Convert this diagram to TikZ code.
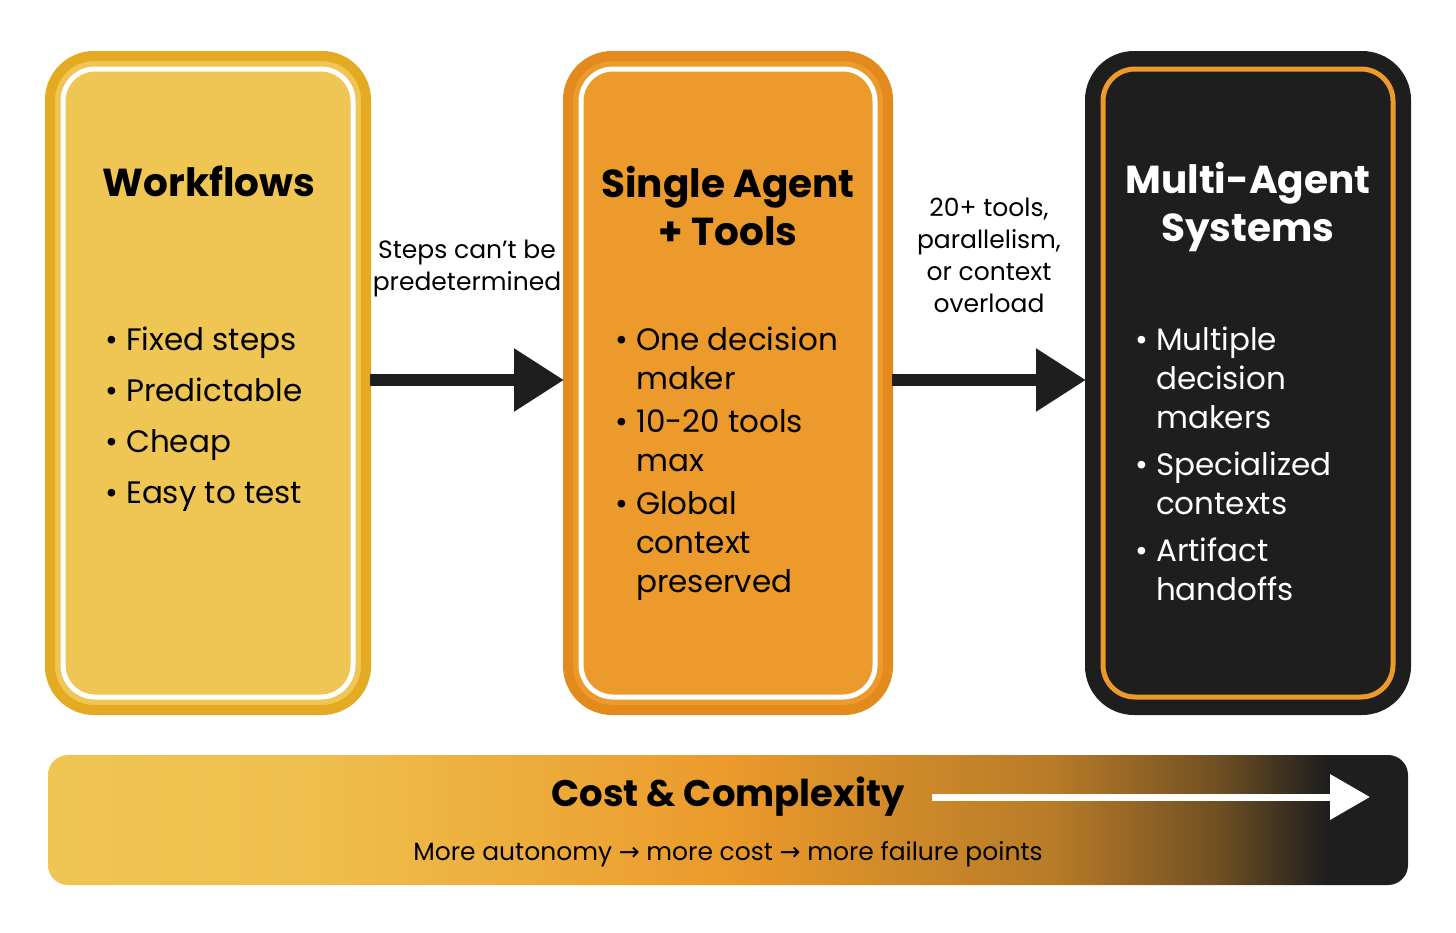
\documentclass[tikz,border=0pt]{standalone}
\usepackage{fontspec}
\setmainfont{Poppins}
\newfontfamily\arrowfont{DejaVu Sans}
\usetikzlibrary{arrows.meta}
\definecolor{yel}{HTML}{EFC553}
\definecolor{yelb}{HTML}{E3AA22}
\definecolor{ora}{HTML}{EB9A2B}
\definecolor{orab}{HTML}{E38A1C}
\definecolor{blk}{HTML}{1E1E1E}
\pgfdeclarehorizontalshading{costshade}{100bp}{color(0bp)=(yel); color(25bp)=(yel); color(35bp)=(yel!85!ora); color(50bp)=(ora); color(62bp)=(ora!75!blk); color(68bp)=(ora!40!blk); color(72bp)=(blk); color(100bp)=(blk)}
\tikzset{
 panel/.style={rounded corners=22pt, line width=5pt},
 inner/.style={rounded corners=16pt, line width=2.5pt},
 title/.style={font=\bfseries\fontsize{19.5}{24}\selectfont, align=center},
 items/.style={font=\fontsize{15.5}{19.5}\selectfont, align=left, anchor=north west},
 lab/.style={font=\fontsize{12.5}{16}\selectfont, align=center},
 bigarrow/.style={line width=6pt, -{Triangle[length=25pt,width=30pt]}, draw=blk}
}
\begin{document}
\begin{tikzpicture}[x=0.5pt,y=-0.5pt]
\useasboundingbox (0,0) rectangle (1456,932);
% panels
\draw[panel, fill=yel, draw=yelb] (50,56) rectangle (366,710);
\draw[inner, draw=white] (63,69) rectangle (353,697);
\draw[panel, fill=ora, draw=orab] (568,56) rectangle (888,710);
\draw[inner, draw=white] (581,69) rectangle (875,697);
\draw[panel, fill=blk, draw=blk] (1090,56) rectangle (1406,710);
\draw[inner, draw=ora] (1103,69) rectangle (1393,697);
% titles
\node[title] (t1) at (209,181) {Workflows};
\node[title] (t2) at (728,206) {Single Agent\\+ Tools};
\node[title, text=white] (t3) at (1248,207) {Multi-Agent\\Systems};
% items
\node[items] (i1) at (98,320) {\textbullet\ Fixed steps\\[6pt]\textbullet\ Predictable\\[6pt]\textbullet\ Cheap\\[6pt]\textbullet\ Easy to test};
\node[items] (i2) at (608,320) {\textbullet\ One decision\\\phantom{\textbullet\ }maker\\[2pt]\textbullet\ 10-20 tools\\\phantom{\textbullet\ }max\\[2pt]\textbullet\ Global\\\phantom{\textbullet\ }context\\\phantom{\textbullet\ }preserved};
\node[items, text=white] (i3) at (1128,320) {\textbullet\ Multiple\\\phantom{\textbullet\ }decision\\\phantom{\textbullet\ }makers\\[4pt]\textbullet\ Specialized\\\phantom{\textbullet\ }contexts\\[4pt]\textbullet\ Artifact\\\phantom{\textbullet\ }handoffs};
% arrows
\coordinate (a1s) at (370,380); \coordinate (a1e) at (564,380);
\coordinate (a2s) at (892,380); \coordinate (a2e) at (1086,380);
\draw[bigarrow] (a1s) -- (a1e);
\draw[bigarrow] (a2s) -- (a2e);
\node[lab] (l1) at (467,268) {Steps can’t be\\predetermined};
\node[lab] (l2) at (989,255) {20+ tools,\\parallelism,\\or context\\overload};
% bottom bar
\shade[shading=costshade, rounded corners=10pt] (48,755) rectangle (1408,885);
\node[font=\bfseries\fontsize{18.5}{22}\selectfont] (cc) at (728,797) {Cost \& Complexity};
\coordinate (w1) at (932,797); \coordinate (w2) at (1370,797);
\draw[white, line width=3.5pt, -{Triangle[length=20pt,width=22pt]}] (w1) -- (w2);
\node[font=\fontsize{12.5}{15}\selectfont] (sub) at (728,854) {More autonomy {\arrowfont→} more cost {\arrowfont→} more failure points};
\end{tikzpicture}
\end{document}
